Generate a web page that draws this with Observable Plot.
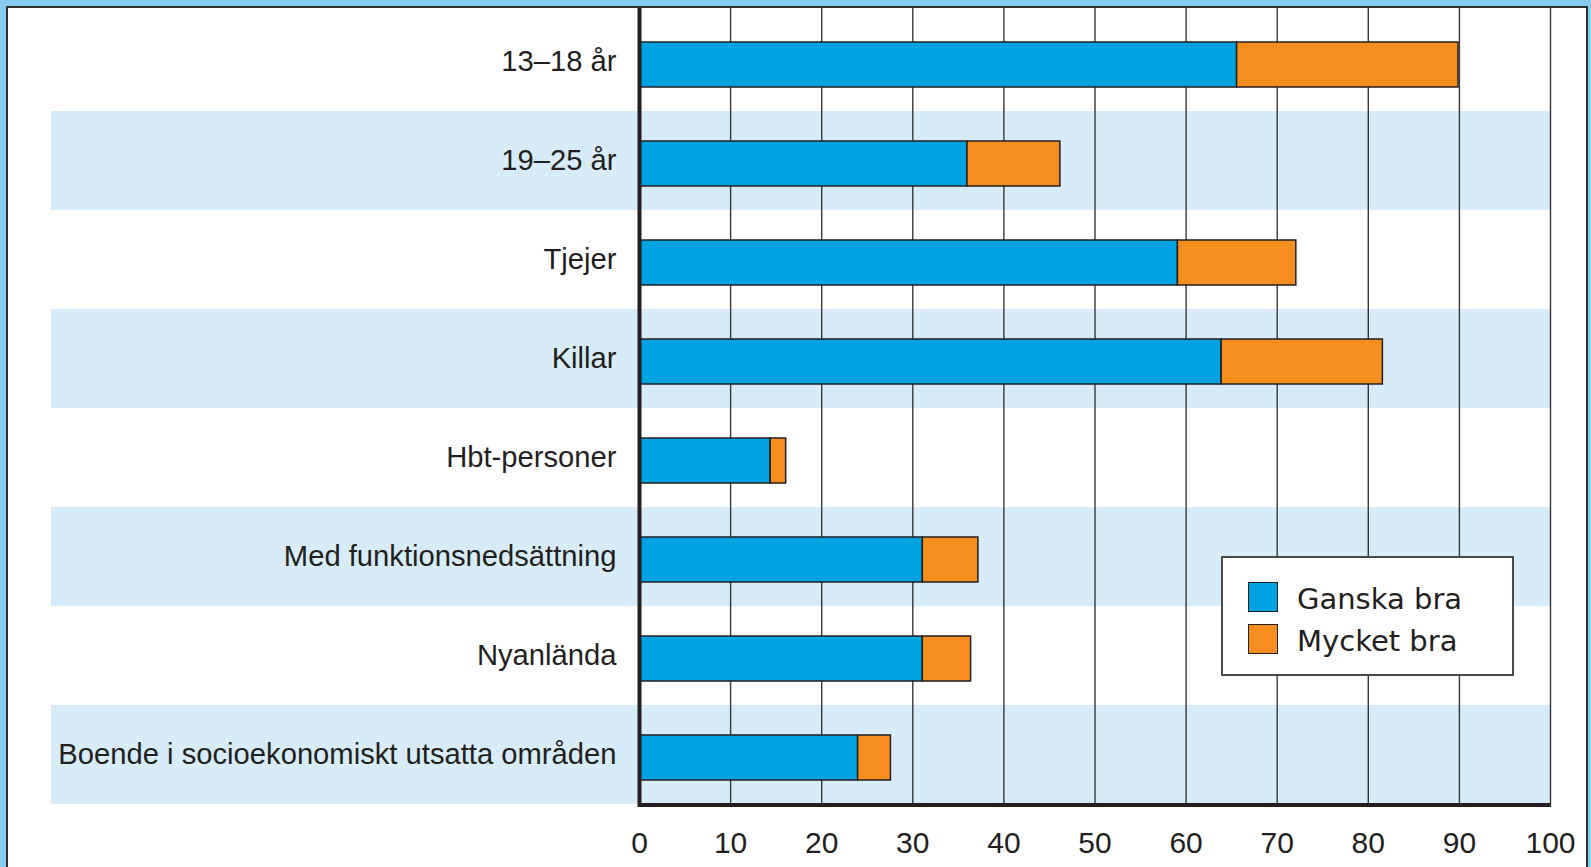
<!DOCTYPE html>
<html>
<head>
<meta charset="utf-8">
<script src="https://cdn.jsdelivr.net/npm/d3@7"></script>
<script src="https://cdn.jsdelivr.net/npm/@observablehq/plot@0.6"></script>
<style>
  html, body { margin: 0; padding: 0; }
  body { width: 1591px; height: 867px; overflow: hidden; background: #86CBF0; position: relative; }
  #frame { position: absolute; left: 6px; top: 6px; width: 1582px; height: 900px; box-sizing: border-box;
           border: 2px solid #2e2e2e; background: #ffffff; }
  #chart { position: absolute; left: 0; top: 0; }
  #legend { position: absolute; left: 1221px; top: 556px; width: 293px; height: 120px; box-sizing: border-box;
            border: 2px solid #4a4a4a; background: #ffffff; font-family: "DejaVu Sans", sans-serif;
            font-size: 29px; color: #231F20; }
  .item { position: absolute; left: 25px; display: flex; align-items: center; }
  .item span { position: relative; top: 2px; }
  .sw { width: 28px; height: 28px; border: 1.5px solid #231F20; margin-right: 19px; }
</style>
</head>
<body>
<div id="frame"></div>
<div id="chart"></div>
<div id="legend"></div>
<script>
const categories = [
  "13–18 år",
  "19–25 år",
  "Tjejer",
  "Killar",
  "Hbt-personer",
  "Med funktionsnedsättning",
  "Nyanlända",
  "Boende i socioekonomiskt utsatta områden"
];
const ganskaBra = [65.6, 36.0, 59.1, 63.9, 14.4, 31.1, 31.1, 24.0];
const mycketBra = [24.3, 10.2, 13.0, 17.7, 1.7, 6.1, 5.3, 3.6];
const seriesNames = ["Ganska bra", "Mycket bra"];
const seriesColors = ["#00A3E2", "#F68E1F"];
const shadedRows = ["19–25 år", "Killar", "Med funktionsnedsättning", "Boende i socioekonomiskt utsatta områden"];
const xTicks = [0, 10, 20, 30, 40, 50, 60, 70, 80, 90, 100];
const gridTicks = [10, 20, 30, 40, 50, 60, 70, 80, 90, 100];

const rows = categories.flatMap((c, i) => [
  {cat: c, series: seriesNames[0], value: ganskaBra[i]},
  {cat: c, series: seriesNames[1], value: mycketBra[i]}
]);

const W = 1591, H = 867;
const mTop = 8, mBottom = 60, mLeft = 639, mRight = 41;
const step = (H - mTop - mBottom) / categories.length;

const chart = Plot.plot({
  width: W,
  height: H,
  marginTop: mTop,
  marginBottom: mBottom,
  marginLeft: mLeft,
  marginRight: mRight,
  style: {background: "transparent", fontFamily: "'Liberation Sans', Arial, sans-serif", color: "#231F20", overflow: "visible"},
  x: {domain: [0, 100]},
  y: {domain: categories, padding: 0},
  color: {domain: seriesNames, range: seriesColors},
  marks: [
    Plot.barX(shadedRows, {x1: 0, x2: 100, y: d => d, fill: "#D7EBF8", insetLeft: -588}),
    Plot.ruleX(gridTicks, {stroke: "#383838", strokeWidth: 1.4}),
    Plot.barX(rows, Plot.stackX({x: "value", y: "cat", fill: "series", stroke: "#231F20", strokeWidth: 1.5, insetTop: 30, insetBottom: 24})),
    Plot.ruleX([0], {stroke: "#231F20", strokeWidth: 4}),
    Plot.ruleY([categories[categories.length - 1]], {x1: 0, x2: 100, stroke: "#231F20", strokeWidth: 4, dy: step / 2}),
    Plot.axisX(xTicks, {tickSize: 0, tickPadding: 24, fontSize: 30, label: null, tickFormat: d => String(d)}),
    Plot.axisY({tickSize: 0, tickPadding: 23, fontSize: 29.2, label: null})
  ]
});
document.getElementById("chart").appendChild(chart);

const legend = document.getElementById("legend");
seriesNames.forEach((name, i) => {
  const item = document.createElement("div");
  item.className = "item";
  item.style.top = (i === 0 ? 22 : 64) + "px";
  const sw = document.createElement("div");
  sw.className = "sw";
  sw.style.background = seriesColors[i];
  const label = document.createElement("span");
  label.textContent = name;
  item.appendChild(sw);
  item.appendChild(label);
  legend.appendChild(item);
});
</script>
</body>
</html>
